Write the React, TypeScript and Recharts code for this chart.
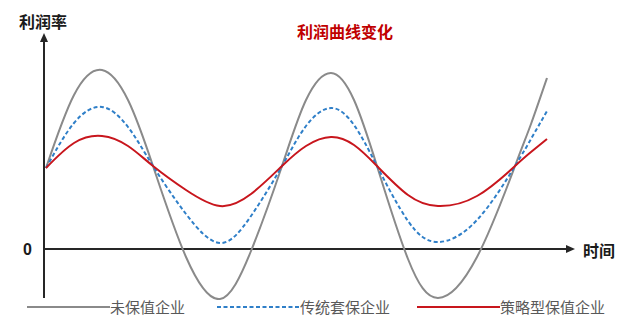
import { LineChart, Line, XAxis, YAxis, ReferenceLine, Legend } from "recharts";

// 时间（横轴，无刻度）与三条利润率曲线
const times = [2, 30, 58, 84, 109, 142, 176, 207, 238, 262, 287, 310, 333, 364, 394, 433, 471, 487, 503];
const unhedged = [81, 154, 179, 149, 83, -8, -50, -2, 83, 149, 176, 149, 83, -10, -49, -8, 83, 125, 171];
const traditional = [81, 126, 142, 122, 83, 35, 6, 33, 83, 123, 141, 124, 83, 28, 7, 29, 83, 110, 138];
const strategic = [81, 106, 113, 103, 83, 59, 43, 55, 83, 103, 112, 104, 83, 54, 43, 53, 83, 97, 110];
const seriesNames = ["未保值企业", "传统套保企业", "策略型保值企业"];
const yTicks = [0];

const data = times.map((t, i) => ({
    t,
    a: unhedged[i],
    b: traditional[i],
    c: strategic[i],
}));

const CJK = '"Noto Sans CJK SC", "Noto Sans", sans-serif';
const AXIS = "#262626";

function YArrow(props: any) {
    const x = props.x1;
    const top = Math.min(props.y1, props.y2);
    const bottom = Math.max(props.y1, props.y2);
    return (
        <g>
            <line x1={x} y1={top + 6} x2={x} y2={bottom - 2} stroke={AXIS} strokeWidth={2} />
            <polygon points={`${x},${top} ${x - 4},${top + 9} ${x + 4},${top + 9}`} fill={AXIS} />
        </g>
    );
}

function XArrow(props: any) {
    const y = props.y1;
    const left = Math.min(props.x1, props.x2);
    const right = Math.max(props.x1, props.x2);
    return (
        <g>
            <line x1={left} y1={y} x2={right - 6} y2={y} stroke={AXIS} strokeWidth={2} />
            <polygon points={`${right},${y} ${right - 9},${y - 4} ${right - 9},${y + 4}`} fill={AXIS} />
        </g>
    );
}

function ZeroTick({ x, y, payload }: any) {
    return (
        <text
            x={x - 4}
            y={y + 6}
            textAnchor="end"
            fontFamily='"Liberation Sans", Arial, sans-serif'
            fontWeight="bold"
            fontSize={16}
            fill="#1a1a1a"
        >
            {payload.value}
        </text>
    );
}

function LegendContent({ payload }: any) {
    const lefts = [27, 217, 417];
    const items = [...(payload || [])].sort(
        (p: any, q: any) => seriesNames.indexOf(p.value) - seriesNames.indexOf(q.value)
    );
    return (
        <div style={{ position: "relative", width: 630, height: 20 }}>
            {items.map((entry: any, i: number) => (
                <div
                    key={entry.value}
                    style={{
                        position: "absolute",
                        left: lefts[i],
                        top: 0,
                        height: 20,
                        display: "flex",
                        alignItems: "center",
                    }}
                >
                    <svg width={83} height={4}>
                        <line
                            x1={0}
                            y1={2}
                            x2={83}
                            y2={2}
                            stroke={entry.color}
                            strokeWidth={2}
                            strokeDasharray={entry.payload?.strokeDasharray}
                        />
                    </svg>
                    <span style={{ fontFamily: CJK, fontSize: 15, color: "#595959", lineHeight: "20px" }}>
                        {entry.value}
                    </span>
                </div>
            ))}
        </div>
    );
}

export default function App() {
    document.body.style.margin = "0";

    return (
        <div style={{ position: "relative", width: 630, height: 325, background: "#fff" }}>
            <LineChart
                width={630}
                height={325}
                data={data}
                margin={{ top: 33, right: 55, bottom: 25, left: 0 }}
            >
                <XAxis type="number" dataKey="t" domain={[0, 531]} hide />
                <YAxis
                    type="number"
                    domain={[-51, 216]}
                    allowDataOverflow
                    ticks={yTicks}
                    width={44}
                    axisLine={false}
                    tickLine={false}
                    tick={<ZeroTick />}
                />
                <ReferenceLine x={0} shape={YArrow} />
                <ReferenceLine y={0} shape={XArrow} />
                <Line
                    type="natural"
                    dataKey="a"
                    name={seriesNames[0]}
                    stroke="#8a8a8a"
                    strokeWidth={2}
                    dot={false}
                    isAnimationActive={false}
                />
                <Line
                    type="natural"
                    dataKey="b"
                    name={seriesNames[1]}
                    stroke="#2f7fc8"
                    strokeWidth={2}
                    strokeDasharray="4 2.5"
                    dot={false}
                    isAnimationActive={false}
                />
                <Line
                    type="natural"
                    dataKey="c"
                    name={seriesNames[2]}
                    stroke="#c8161d"
                    strokeWidth={2}
                    dot={false}
                    isAnimationActive={false}
                />
                <Legend
                    layout="horizontal"
                    verticalAlign="middle"
                    align="center"
                    wrapperStyle={{ top: 297, left: 0, width: 630 }}
                    content={<LegendContent />}
                />
            </LineChart>
            <div
                style={{
                    position: "absolute",
                    left: 19,
                    top: 13,
                    fontFamily: CJK,
                    fontWeight: "bold",
                    fontSize: 16,
                    lineHeight: "16px",
                    color: "#1a1a1a",
                }}
            >
                利润率
            </div>
            <div
                style={{
                    position: "absolute",
                    left: 297,
                    top: 23,
                    fontFamily: CJK,
                    fontWeight: "bold",
                    fontSize: 16,
                    lineHeight: "16px",
                    color: "#c00000",
                }}
            >
                利润曲线变化
            </div>
            <div
                style={{
                    position: "absolute",
                    left: 583,
                    top: 242,
                    fontFamily: CJK,
                    fontWeight: "bold",
                    fontSize: 16,
                    lineHeight: "16px",
                    color: "#1a1a1a",
                }}
            >
                时间
            </div>
        </div>
    );
}
